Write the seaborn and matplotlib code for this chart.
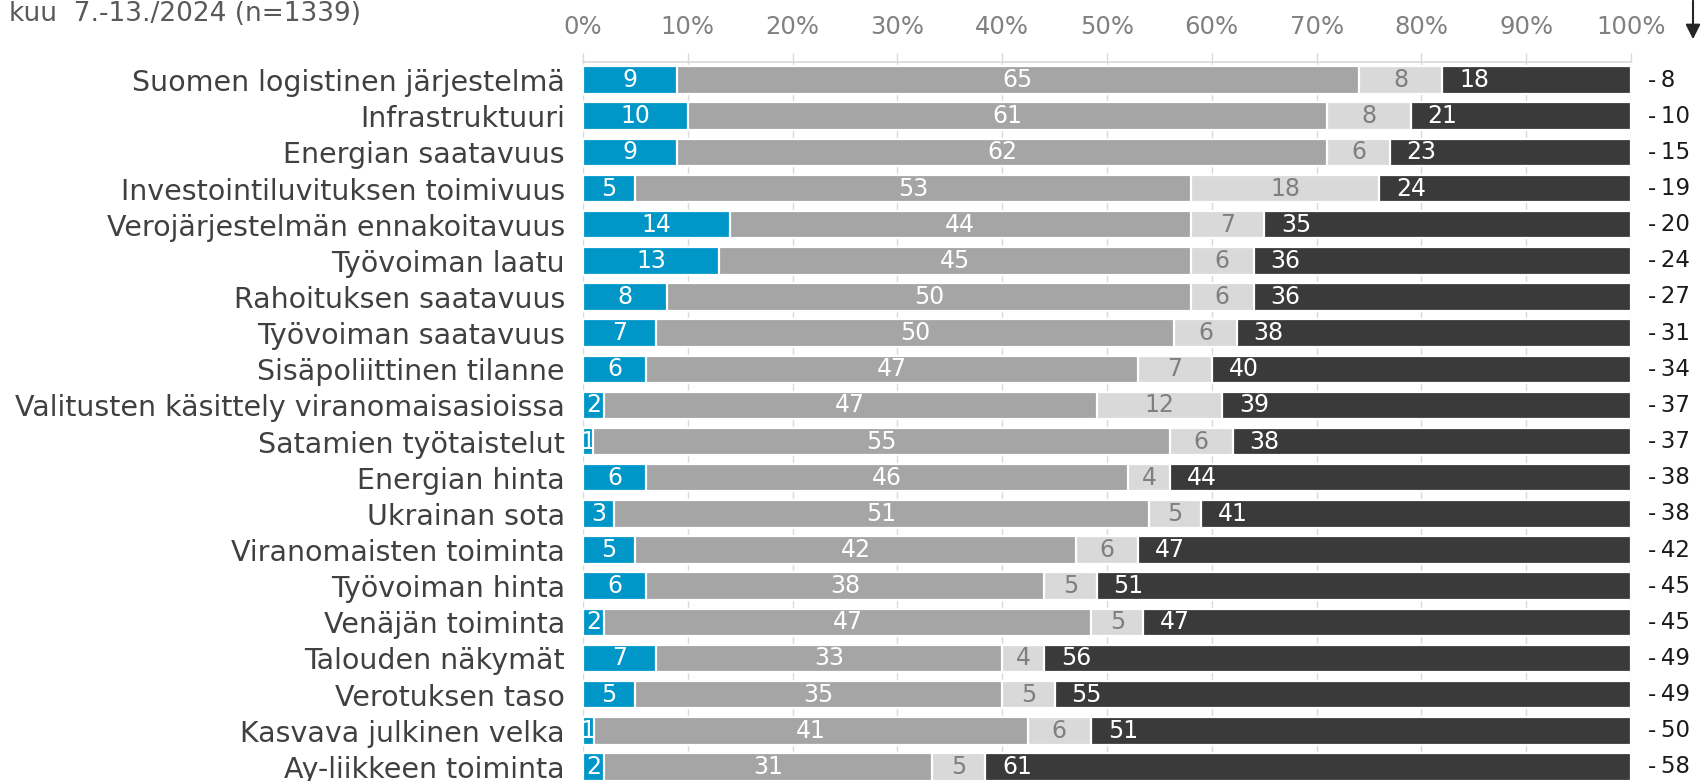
import numpy as np
import pandas as pd
import matplotlib
matplotlib.use("Agg")
import matplotlib.pyplot as plt
import seaborn as sns

# ── Data ──────────────────────────────────────────────────────────────────────
categories = [
    "Suomen logistinen järjestelmä", "Infrastruktuuri", "Energian saatavuus",
    "Investointiluvituksen toimivuus", "Verojärjestelmän ennakoitavuus",
    "Työvoiman laatu", "Rahoituksen saatavuus", "Työvoiman saatavuus",
    "Sisäpoliittinen tilanne", "Valitusten käsittely viranomaisasioissa",
    "Satamien työtaistelut", "Energian hinta", "Ukrainan sota",
    "Viranomaisten toiminta", "Työvoiman hinta", "Venäjän toiminta",
    "Talouden näkymät", "Verotuksen taso", "Kasvava julkinen velka",
    "Ay-liikkeen toiminta",
]
positive = [9, 10, 9, 5, 14, 13, 8, 7, 6, 2, 1, 6, 3, 5, 6, 2, 7, 5, 1, 2]
neutral  = [65, 61, 62, 53, 44, 45, 50, 50, 47, 47, 55, 46, 51, 42, 38, 47, 33, 35, 41, 31]
unknown  = [8, 8, 6, 18, 7, 6, 6, 6, 7, 12, 6, 4, 5, 6, 5, 5, 4, 5, 6, 5]
negative = [18, 21, 23, 24, 35, 36, 36, 38, 40, 39, 38, 44, 41, 47, 51, 47, 56, 55, 51, 61]
balance  = [-8, -10, -15, -19, -20, -24, -27, -31, -34, -37, -37, -38, -38, -42,
            -45, -45, -49, -49, -50, -58]
tick_values = [0, 10, 20, 30, 40, 50, 60, 70, 80, 90, 100]
subtitle = "kuu  7.-13./2024 (n=1339)"

# ── Styling ───────────────────────────────────────────────────────────────────
BLUE, MID, LIGHT, DARK = "#0096C8", "#A5A5A5", "#D9D9D9", "#3A3A3A"
text_colors = ["white", "white", "#7F7F7F", "white"]

sns.set_theme(style="white")
plt.rcParams["font.family"] = ["DejaVu Sans"]

# 100 % stacked: scale each row to its total, then cumulative ends
df = pd.DataFrame({"category": categories, "pos": positive, "neu": neutral,
                   "unk": unknown, "neg": negative})
parts = ["pos", "neu", "unk", "neg"]
total = df[parts].sum(axis=1)
for p in parts:
    df[p + "_pct"] = df[p] / total * 100
cum = df[[p + "_pct" for p in parts]].cumsum(axis=1)
cum.columns = ["c_pos", "c_neu", "c_unk", "c_neg"]
df = pd.concat([df, cum], axis=1)

fig = plt.figure(figsize=(17.01, 7.81), dpi=100)
ax = fig.add_axes([583 / 1701, -4 / 781, 1048 / 1701, (781 - 62 + 4) / 781])

# draw longest cumulative bar first, shorter ones on top
for col, color in zip(["c_neg", "c_unk", "c_neu", "c_pos"], [DARK, LIGHT, MID, BLUE]):
    sns.barplot(data=df, x=col, y="category", order=categories, color=color,
                width=0.76, edgecolor="white", linewidth=1.6, orient="h", ax=ax,
                saturation=1)

# segment labels (dark segment label sits near its left edge)
for i in range(len(categories)):
    left = 0.0
    for p, tc in zip(parts, text_colors):
        w = df.loc[i, p + "_pct"]
        if p == "neg":
            ax.annotate(str(df.loc[i, p]), xy=(left, i), xytext=(12, 0),
                        textcoords="offset points", ha="left", va="center",
                        color=tc, fontsize=17)
        else:
            ax.text(left + w / 2, i, str(df.loc[i, p]), ha="center", va="center",
                    color=tc, fontsize=17)
        left += w
    ax.text(101.6, i, str(balance[i]).replace("-", "-\u2009"), ha="left",
            va="center", color="#1A1A1A", fontsize=16.5, clip_on=False)

ax.set_xlim(0, 100)
ax.set_ylim(len(categories) - 0.5, -0.5)
ax.set_xticks(tick_values)
ax.set_xticklabels([f"{v}%" for v in tick_values])
ax.xaxis.tick_top()
ax.tick_params(axis="x", colors="#D9D9D9", labelcolor="#808080", length=6.5,
               width=1, pad=10, labelsize=17.5, top=True, bottom=False)
ax.tick_params(axis="y", length=0, pad=13, labelsize=20.5, labelcolor="#404040")
ax.set_xlabel("")
ax.set_ylabel("")
ax.grid(axis="x", color="#D9D9D9", linewidth=1)
ax.set_axisbelow(True)
for s in ["left", "right", "bottom"]:
    ax.spines[s].set_visible(False)
ax.spines["top"].set_color("#D9D9D9")
ax.spines["top"].set_linewidth(1.2)

# subtitle (cut off at the left edge) and sort-order arrow
fig.text(361 / 1701, 1 - 21 / 781, subtitle, ha="right", va="baseline",
         fontsize=19, color="#595959")
ax.annotate("", xy=(1693, 781 - 42), xytext=(1693, 783), xycoords="figure pixels",
            textcoords="figure pixels",
            arrowprops=dict(arrowstyle="-|>", color="#262626", lw=1.5,
                            mutation_scale=22))

fig.savefig("out.png", dpi=100)
